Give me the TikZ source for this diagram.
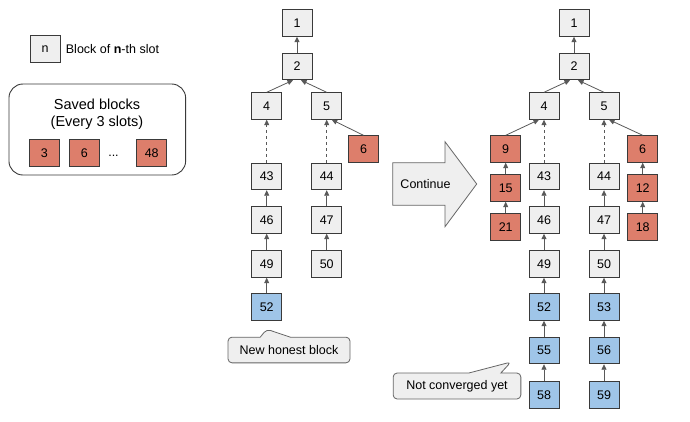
\documentclass[tikz,border=0pt]{standalone}
\usepackage{fontspec}
\setmainfont{Liberation Sans}
\usepackage{xcolor}
\usetikzlibrary{arrows.meta, shapes.callouts}

\definecolor{blkgray}{HTML}{EFEFEF}
\definecolor{blkred}{HTML}{DD7E6B}
\definecolor{blkblue}{HTML}{9FC5E8}
\definecolor{edgegray}{HTML}{3A3A3A}
\definecolor{linkgray}{HTML}{595959}

\begin{document}
\begin{tikzpicture}[x=1pt, y=-1pt,
  block/.style={draw=edgegray, line width=0.9pt, fill=blkgray, minimum width=30pt,
                minimum height=26.5pt, inner sep=0pt, font=\fontsize{12.5}{15}\selectfont},
  saved/.style={block, fill=blkred},
  fresh/.style={block, fill=blkblue},
  link/.style={draw=linkgray, line width=0.8pt, -{Triangle[length=5.5pt, width=5pt]}},
  skip/.style={link, dashed},
  note/.style={rectangle callout, draw=black!60, fill=blkgray, line width=0.8pt,
               rounded corners=4pt, font=\fontsize{12.5}{15}\selectfont, inner sep=0pt}
]
\useasboundingbox (0,0) rectangle (690,421);

% legend
\node[block] (key) at (45,49) {n};
\node[anchor=west, inner sep=0pt, font=\fontsize{12.5}{15}\selectfont] (keytext) at (65.7,49)
  {Block of \textbf{n}-th slot};
\node[draw=edgegray, line width=0.9pt, rounded corners=14pt, minimum width=176.7pt,
      minimum height=91pt] (savebox) at (97.3,129.5) {};
\node[align=center, font=\fontsize{14.5}{17.3}\selectfont] (savetitle) at (97,114)
  {Saved blocks\\(Every 3 slots)};
\node[saved] (s3)  at (44.3,153)  {3};
\node[saved] (s6)  at (84.3,153)  {6};
\node[font=\fontsize{12.5}{15}\selectfont] (sdots) at (113.5,156) {...};
\node[saved] (s48) at (151.7,153) {48};

% left tree
\node[block] (l1)  at (297,23)      {1};
\node[block] (l2)  at (297,66.5)    {2};
\node[block] (l4)  at (266.7,106)   {4};
\node[block] (l5)  at (326.7,106)   {5};
\node[saved] (l6)  at (363.5,149)   {6};
\node[block] (l43) at (266.7,176.5) {43};
\node[block] (l44) at (326.7,176.5) {44};
\node[block] (l46) at (266.7,220)   {46};
\node[block] (l47) at (326.7,220)   {47};
\node[block] (l49) at (266.7,264)   {49};
\node[block] (l50) at (326.7,264)   {50};
\node[fresh] (l52) at (266.7,307)   {52};
\draw[link] (l2) -- (l1);
\draw[link] (l4.north) -- ([xshift=-4pt]l2.south);
\draw[link] (l5.north) -- ([xshift=4pt]l2.south);
\draw[link] (l6.north) -- ([xshift=5pt]l5.south);
\draw[skip] (l43) -- (l4);
\draw[skip] (l44) -- (l5);
\draw[link] (l46) -- (l43);
\draw[link] (l49) -- (l46);
\draw[link] (l52) -- (l49);
\draw[link] (l47) -- (l44);
\draw[link] (l50) -- (l47);

\node[note, minimum width=122pt, minimum height=25.7pt, callout pointer width=30pt,
      callout absolute pointer={([yshift=-8.5pt]l52.south)}] (honest) at (289,350)
  {New honest block};

% continue arrow
\draw[draw=black!60, fill=blkgray, line width=0.8pt]
  (392.7,162.7) -- (445,162.7) -- (445,141.7) -- (476.7,184)
  -- (445,226.7) -- (445,205.3) -- (392.7,205.3) -- cycle;
\node[font=\fontsize{12.5}{15}\selectfont] (cont) at (425.5,184) {Continue};

% right tree
\node[block] (r1)  at (574,23)      {1};
\node[block] (r2)  at (574,66.5)    {2};
\node[block] (r4)  at (544,106)     {4};
\node[block] (r5)  at (604,106)     {5};
\node[saved] (r9)  at (505.7,149)   {9};
\node[saved] (r6)  at (642.7,149)   {6};
\node[block] (r43) at (544,176.5)   {43};
\node[block] (r44) at (604,176.5)   {44};
\node[saved] (r15) at (505.7,188)   {15};
\node[saved] (r12) at (642.7,188)   {12};
\node[saved] (r21) at (505.7,226.7) {21};
\node[saved] (r18) at (642.7,226.7) {18};
\node[block] (r46) at (544,220)     {46};
\node[block] (r47) at (604,220)     {47};
\node[block] (r49) at (544,264)     {49};
\node[block] (r50) at (604,264)     {50};
\node[fresh] (r52) at (544,307)     {52};
\node[fresh] (r53) at (604,307)     {53};
\node[fresh] (r55) at (544,350.5)   {55};
\node[fresh] (r56) at (604,350.5)   {56};
\node[fresh] (r58) at (544,395)     {58};
\node[fresh] (r59) at (604,395)     {59};
\draw[link] (r2) -- (r1);
\draw[link] (r4.north) -- ([xshift=-4pt]r2.south);
\draw[link] (r5.north) -- ([xshift=4pt]r2.south);
\draw[link] (r9.north) -- ([xshift=-5pt]r4.south);
\draw[link] (r6.north) -- ([xshift=5pt]r5.south);
\draw[skip] (r43) -- (r4);
\draw[skip] (r44) -- (r5);
\draw[link] (r15) -- (r9);
\draw[link] (r21) -- (r15);
\draw[link] (r12) -- (r6);
\draw[link] (r18) -- (r12);
\draw[link] (r46) -- (r43);
\draw[link] (r49) -- (r46);
\draw[link] (r52) -- (r49);
\draw[link] (r55) -- (r52);
\draw[link] (r58) -- (r55);
\draw[link] (r47) -- (r44);
\draw[link] (r50) -- (r47);
\draw[link] (r53) -- (r50);
\draw[link] (r56) -- (r53);
\draw[link] (r59) -- (r56);

\coordinate (lagtip) at (511,362);
\node[note, minimum width=127.7pt, minimum height=26pt, callout pointer width=32pt,
      callout absolute pointer={(lagtip)}] (lag) at (457,386) {Not converged yet};
\end{tikzpicture}
\end{document}
